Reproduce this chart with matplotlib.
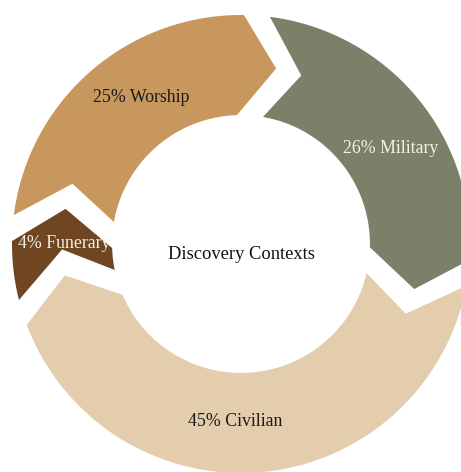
import numpy as np
import matplotlib.pyplot as plt
from matplotlib.patches import Polygon

# share of finds per discovery context, clockwise from the top
categories = ['Military', 'Civilian', 'Funerary', 'Worship']
shares = [26, 45, 4, 25]
seg_colors = ['#7a8168', '#e3cdac', '#704622', '#c8975e']
text_colors = ['#f4f1ea', '#1a1a1a', '#f4f1ea', '#1a1a1a']
center_title = 'Discovery Contexts'

R_OUT = 1.0
R_IN = 0.563
R_MID = (R_OUT + R_IN) / 2
HALF_GAP = 0.057              # half the white gap between arrows
DEPTH = np.radians(11.5)      # how far each arrow head pokes forward
START = np.radians(86)

plt.rcParams['font.family'] = ['Liberation Serif', 'DejaVu Serif']


def ring_point(r, a):
    return r * np.cos(a), r * np.sin(a)


def arrow_segment(b0, b1, n=80):
    """clockwise ring piece from b0 down to b1, notched at b0 and pointed at b1"""
    outer = np.linspace(b0 - HALF_GAP / R_OUT, b1 + HALF_GAP / R_OUT, n)
    inner = np.linspace(b1 + HALF_GAP / R_IN, b0 - HALF_GAP / R_IN, n)
    pts = [ring_point(R_OUT, a) for a in outer]
    pts.append(ring_point(R_MID, b1 + HALF_GAP / R_MID - DEPTH))
    pts += [ring_point(R_IN, a) for a in inner]
    pts.append(ring_point(R_MID, b0 - HALF_GAP / R_MID - DEPTH))
    return np.array(pts)


gap_mid = 2 * HALF_GAP / R_MID
free = 2 * np.pi - len(shares) * gap_mid
steps = [s / sum(shares) * free + gap_mid for s in shares]
bounds = START - np.concatenate([[0], np.cumsum(steps)])

fig = plt.figure(figsize=(4.61, 4.72), dpi=100)
ax = fig.add_axes([0, 0, 1, 1])

for i, (name, share) in enumerate(zip(categories, shares)):
    b0, b1 = bounds[i], bounds[i + 1]
    ax.add_patch(Polygon(arrow_segment(b0, b1), closed=True,
                         facecolor=seg_colors[i], edgecolor='none'))
    # labels sit on the arrow body, nudged toward its head
    mid = (b0 + b1) / 2 - DEPTH * 0.6
    x, y = ring_point(R_MID * 0.99, mid)
    ax.text(x, y, f'{share}% {name}', ha='center', va='center',
            fontsize=12.8, color=text_colors[i])

ax.text(0, -0.045, center_title, ha='center', va='center', fontsize=13.3, color='#111111')

# ring centre sits a little right of and above the middle of the canvas
ax.set_xlim(-241 / 229, 220 / 229)
ax.set_ylim(-228 / 229, 244 / 229)
ax.set_aspect('equal')
ax.axis('off')

fig.savefig('out.png', dpi=100, facecolor='white')
